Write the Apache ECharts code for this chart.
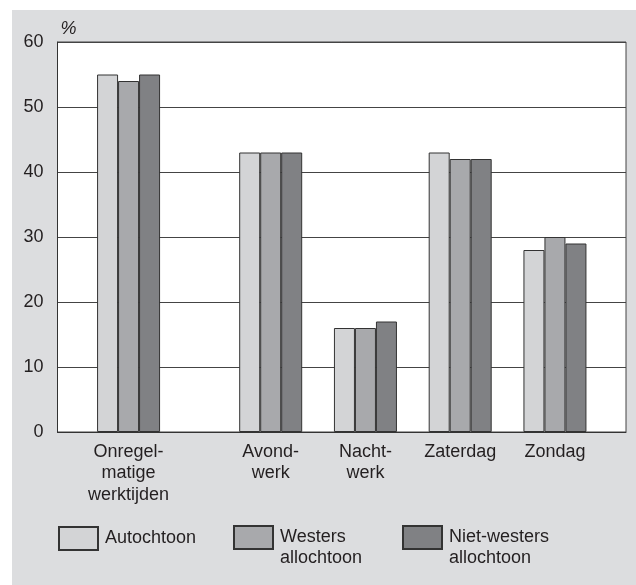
<!DOCTYPE html>
<html>
<head>
<meta charset="utf-8">
<script src="https://cdn.jsdelivr.net/npm/echarts@6/dist/echarts.min.js"></script>
<style>
html,body{margin:0;padding:0;background:#fff;}
#c{position:absolute;left:12px;top:10px;width:624px;height:575px;}
</style>
</head>
<body>
<div id="c"></div>
<script>
// Data
const categories = ['Onregel-\nmatige\nwerktijden', 'Avond-\nwerk', 'Nacht-\nwerk', 'Zaterdag', 'Zondag'];
const seriesNames = ['Autochtoon', 'Westers allochtoon', 'Niet-westers allochtoon'];
const autochtoon = [55, 43, 16, 43, 28];
const westers = [54, 43, 16, 42, 30];
const nietWesters = [55, 43, 17, 42, 29];
const yTicks = [0, 10, 20, 30, 40, 50, 60];

// Layout: categories are placed on a 12-slot band axis (visual spacing of the original)
const slotCount = 12;
const slotOfCategory = [1, 4, 6, 8, 10];
const slots = new Array(slotCount).fill('');
slotOfCategory.forEach((s, i) => { slots[s] = categories[i]; });
function toSlots(values) {
  const arr = new Array(slotCount).fill(null);
  slotOfCategory.forEach((s, i) => { arr[s] = values[i]; });
  return arr;
}

const colors = ['#d3d4d6', '#a8a9ac', '#808184'];
const font = 'Liberation Sans, Arial, Helvetica, sans-serif';
const textColor = '#231f20';

const chart = echarts.init(document.getElementById('c'), null, {renderer: 'canvas'});
const valuesList = [autochtoon, westers, nietWesters];

function legendFor(i, left, top, twoLine) {
  return {
    data: [{name: seriesNames[i]}],
    left: left, top: top, padding: 0,
    orient: 'horizontal',
    icon: 'rect',
    itemWidth: 39, itemHeight: 23,
    selectedMode: false,
    formatter: n => twoLine ? '\n' + n.replace(' ', '\n') : n,
    textStyle: {
      fontFamily: font, fontSize: 18, color: textColor, lineHeight: 21,
      padding: [0, 0, 0, 2]
    }
  };
}

chart.setOption({
  animation: false,
  backgroundColor: '#dcdddf',
  textStyle: {fontFamily: font},
  grid: {
    left: 45.5, top: 32, right: 10, bottom: 153,
    show: true, backgroundColor: '#ffffff', borderColor: '#444', borderWidth: 1
  },
  legend: [
    legendFor(0, 46, 516, false),
    legendFor(1, 221, 496, true),
    legendFor(2, 390, 496, true)
  ],
  xAxis: {
    type: 'category',
    data: slots,
    axisTick: {show: false},
    axisLine: {show: true, lineStyle: {color: '#333', width: 1}},
    axisLabel: {
      interval: 0, margin: 9, fontSize: 18, lineHeight: 21.5,
      color: textColor, fontFamily: font, align: 'center'
    },
    splitLine: {show: false}
  },
  yAxis: {
    type: 'value',
    min: yTicks[0], max: yTicks[yTicks.length - 1], interval: 10,
    name: '%',
    nameLocation: 'end',
    nameGap: 13,
    nameTextStyle: {
      fontFamily: font, fontSize: 18, fontStyle: 'italic', color: textColor,
      align: 'left', verticalAlign: 'middle', padding: [0, 0, 0, 3]
    },
    axisLine: {show: true, lineStyle: {color: '#333', width: 1}},
    axisTick: {show: false},
    axisLabel: {margin: 14, fontSize: 18, color: textColor, fontFamily: font},
    splitLine: {show: true, lineStyle: {color: '#444', width: 1.2}}
  },
  series: valuesList.map((vals, i) => ({
    name: seriesNames[i],
    type: 'bar',
    data: toSlots(vals),
    barWidth: 21,
    barGap: '0%',
    itemStyle: {color: colors[i], borderColor: '#333', borderWidth: 1},
    emphasis: {disabled: true}
  }))
});
</script>
</body>
</html>
